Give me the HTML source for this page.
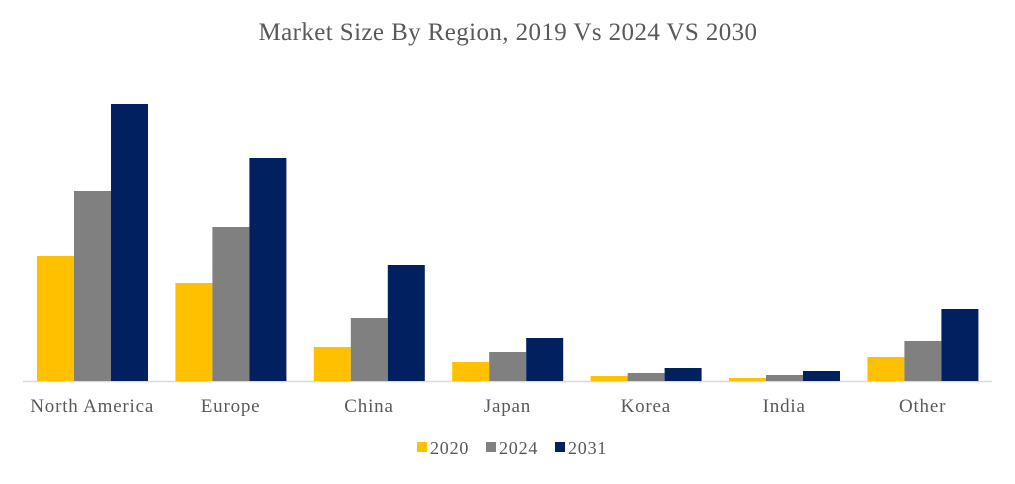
<!DOCTYPE html>
<html><head><meta charset="utf-8"><style>
body{margin:0;background:#fff;width:1015px;height:479px;overflow:hidden}
svg text{font-family:"Liberation Serif",serif}
</style></head><body>
<svg id="chart" width="1015" height="479" xmlns="http://www.w3.org/2000/svg">
<text x="508" y="40" text-anchor="middle" font-size="25" letter-spacing="0.4" fill="#595959">Market Size By Region, 2019 Vs 2024 VS 2030</text>
<line x1="23" y1="381.5" x2="992" y2="381.5" stroke="#d9d9d9" stroke-width="1.5"/>
<g id="bars"></g><g id="labels"></g><g id="legend"></g>
</svg>
<script>
const categories=["North America","Europe","China","Japan","Korea","India","Other"];
const series2020=[125,98,34,19,5,3,24];
const series2024=[190,154,63,29,8,6,40];
const series2031=[277,223,116,43,13,10,72];
const seriesNames=["2020","2024","2031"];
const colors=["#ffc000","#808080","#002060"];
const allSeries=[series2020,series2024,series2031];
const NS="http://www.w3.org/2000/svg";
const x0=23,groupW=138.4,barW=37,baseY=381,scale=1;
function xPos(i,s){return x0+i*groupW+14+s*barW;}
function yPos(v){return baseY-v*scale;}
const bars=document.getElementById('bars'),labels=document.getElementById('labels'),legend=document.getElementById('legend');
allSeries.forEach((ser,s)=>ser.forEach((v,i)=>{
 const r=document.createElementNS(NS,'rect');
 r.setAttribute('x',xPos(i,s));r.setAttribute('y',yPos(v));
 r.setAttribute('width',barW);r.setAttribute('height',baseY-yPos(v));
 r.setAttribute('fill',colors[s]);
 
 
 bars.appendChild(r);
}));
categories.forEach((c,i)=>{
 const t=document.createElementNS(NS,'text');
 t.setAttribute('x',x0+i*groupW+groupW/2);t.setAttribute('y',412);
 t.setAttribute('text-anchor','middle');t.setAttribute('font-size','19');t.setAttribute('letter-spacing','0.8');t.setAttribute('fill','#595959');
 t.textContent=c;
 
 
 labels.appendChild(t);
});
const lx=[417,486,555];
seriesNames.forEach((n,s)=>{
 const g=document.createElementNS(NS,'g');
 
 
 const r=document.createElementNS(NS,'rect');
 r.setAttribute('x',lx[s]);r.setAttribute('y',442);r.setAttribute('width',10);r.setAttribute('height',10);r.setAttribute('fill',colors[s]);
 const t=document.createElementNS(NS,'text');
 t.setAttribute('x',lx[s]+13);t.setAttribute('y',454);t.setAttribute('font-size','18');t.setAttribute('letter-spacing','0.8');t.setAttribute('fill','#595959');
 t.textContent=n;
 g.appendChild(r);g.appendChild(t);legend.appendChild(g);
});
</script>
</body></html>
